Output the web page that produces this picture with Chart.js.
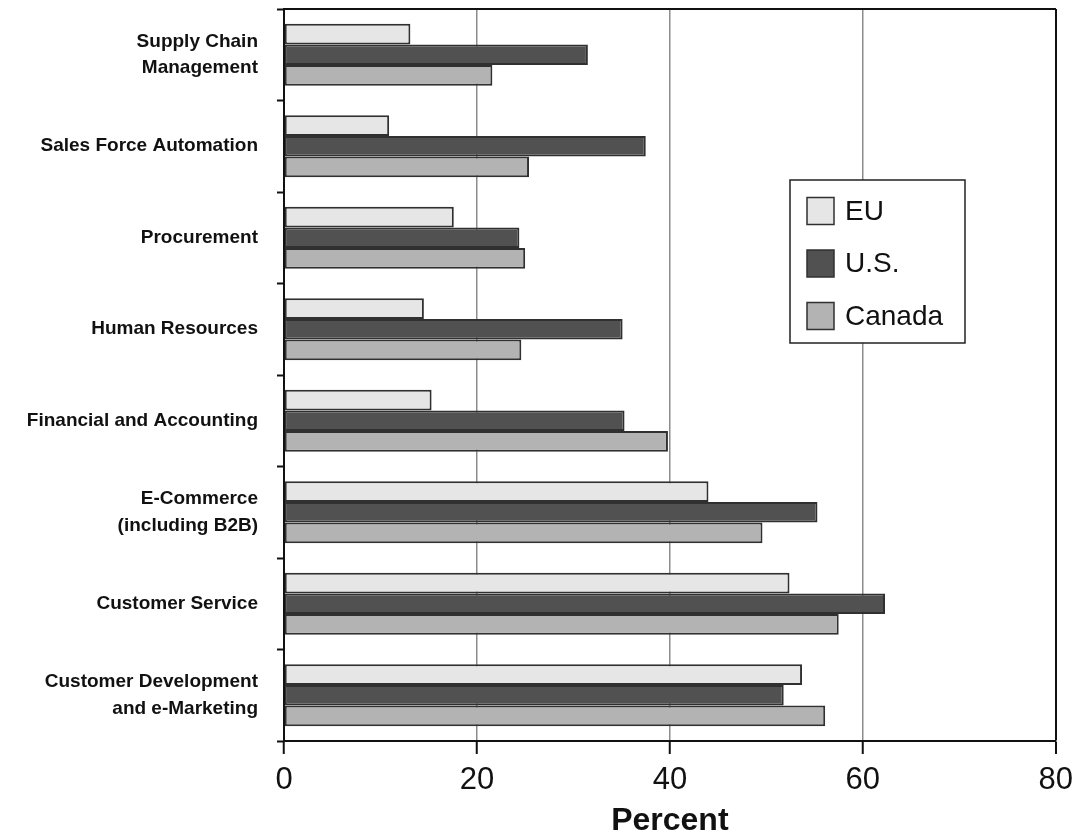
<!DOCTYPE html>
<html>
<head>
<meta charset="utf-8">
<script src="https://cdn.jsdelivr.net/npm/chart.js@4/dist/chart.umd.min.js"></script>
<style>
  html, body { margin: 0; padding: 0; background: #fff; }
  #wrap { width: 1081px; height: 840px; }
</style>
</head>
<body>
<div id="wrap"><canvas id="adoptionChart" width="1081" height="840"></canvas></div>
<script>
// application areas, top to bottom
const categories = [
  ["Supply Chain", "Management"],
  "Sales Force Automation",
  "Procurement",
  "Human Resources",
  "Financial and Accounting",
  ["E-Commerce", "(including B2B)"],
  "Customer Service",
  ["Customer Development", "and e-Marketing"],
];
const seriesNames = ["EU", "U.S.", "Canada"];
const euValues = [13.1, 10.9, 17.6, 14.5, 15.3, 44.0, 52.4, 53.7];
const usValues = [31.5, 37.5, 24.4, 35.1, 35.3, 55.3, 62.3, 51.8];
const canadaValues = [21.6, 25.4, 25.0, 24.6, 39.8, 49.6, 57.5, 56.1];
const xTicks = [0, 20, 40, 60, 80];

const fills = ["#e6e6e6", "#515151", "#b3b3b3"];
const edge = "#303030";

Chart.defaults.font.family = "'Liberation Sans', Arial, sans-serif";
Chart.defaults.color = "#111";

// legend box sitting inside the plot, right of the short bars
const boxLegend = {
  id: "boxLegend",
  afterDraw(chart) {
    const ctx = chart.ctx;
    const left = 790, top = 180, w = 175, h = 163;
    ctx.save();
    ctx.fillStyle = "#fff";
    ctx.fillRect(left, top, w, h);
    ctx.strokeStyle = "#222";
    ctx.lineWidth = 1.5;
    ctx.strokeRect(left, top, w, h);
    ctx.font = "28px 'Liberation Sans', Arial, sans-serif";
    ctx.textBaseline = "middle";
    chart.data.datasets.forEach((ds, i) => {
      const cy = top + 31 + i * 52.5;
      ctx.fillStyle = ds.backgroundColor;
      ctx.fillRect(left + 17, cy - 13.5, 27, 27);
      ctx.strokeStyle = edge;
      ctx.lineWidth = 1.5;
      ctx.strokeRect(left + 17, cy - 13.5, 27, 27);
      ctx.fillStyle = "#111";
      ctx.fillText(ds.label, left + 55, cy + 1);
    });
    ctx.restore();
  },
};

const ctx = document.getElementById("adoptionChart").getContext("2d");
new Chart(ctx, {
  type: "bar",
  data: {
    labels: categories,
    datasets: [euValues, usValues, canadaValues].map((vals, i) => ({
      label: seriesNames[i],
      data: vals,
      backgroundColor: fills[i],
      borderColor: edge,
      borderWidth: 2,
      borderSkipped: false,
      categoryPercentage: 0.68,
      barPercentage: 1.0,
    })),
  },
  options: {
    indexAxis: "y",
    responsive: false,
    animation: false,
    layout: { padding: { top: 9, right: 23, left: 0, bottom: 0 } },
    plugins: {
      legend: { display: false },
      tooltip: { enabled: false },
    },
    scales: {
      x: {
        min: 0,
        max: 80,
        afterBuildTicks(scale) {
          scale.ticks = xTicks.map((v) => ({ value: v }));
        },
        afterFit(scale) {
          scale.height = 99;
          scale.paddingLeft = 0;
        },
        ticks: {
          font: { size: 31 },
          color: "#111",
          padding: 8,
        },
        grid: {
          color: (c) => {
            const v = c.tick ? c.tick.value : null;
            if (v === 0) return "rgba(0,0,0,0)";
            if (v === 80) return "#111";
            return "#8c8c8c";
          },
          lineWidth: (c) => (c.tick && c.tick.value === 80 ? 2 : 1.5),
          tickColor: "#111",
          tickLength: 13,
          tickWidth: 2,
        },
        border: { display: true, color: "#111", width: 2 },
        title: {
          display: true,
          text: "Percent",
          font: { size: 32, weight: "bold" },
          color: "#111",
          padding: { top: 0, bottom: 0 },
        },
      },
      xTop: {
        type: "linear",
        position: "top",
        min: 0,
        max: 80,
        ticks: { display: false },
        grid: { display: false },
        border: { display: true, color: "#111", width: 2 },
        afterFit(scale) {
          scale.height = 0;
          scale.paddingLeft = 0;
          scale.paddingRight = 0;
        },
      },
      y: {
        type: "category",
        offset: true,
        afterFit(scale) {
          scale.width = 284;
          scale.paddingTop = 0;
          scale.paddingBottom = 0;
        },
        ticks: {
          font: { size: 19, weight: "bold", lineHeight: 1.4 },
          color: "#111",
          padding: 19,
        },
        grid: {
          offset: true,
          drawOnChartArea: false,
          drawTicks: true,
          tickLength: 7,
          tickColor: "#111",
          tickWidth: 2,
        },
        border: { display: true, color: "#111", width: 2 },
      },
    },
  },
  plugins: [boxLegend],
});
</script>
</body>
</html>
